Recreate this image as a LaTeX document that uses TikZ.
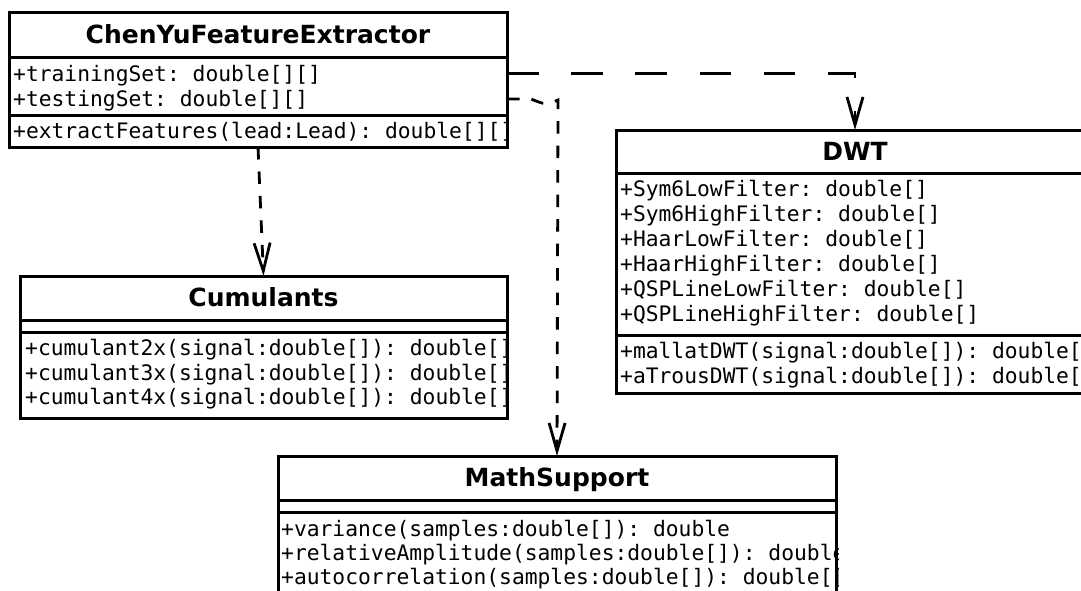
\documentclass[tikz,border=0pt]{standalone}
\usepackage{fontspec}
\setmonofont{DejaVu Sans Mono}
\setsansfont{DejaVu Sans}
\usetikzlibrary{arrows.meta}

\tikzset{
  umlbox/.style={draw=black, line width=3pt, fill=white, inner sep=0pt, outer sep=0pt, anchor=north west},
  divider/.style={draw=black, line width=3pt},
  classname/.style={font=\sffamily\bfseries\fontsize{25}{30}\selectfont, anchor=base, inner sep=0pt},
  member/.style={font=\ttfamily\fontsize{21.3}{25}\selectfont, anchor=base west, inner sep=0pt},
  depends/.style={line width=2.8pt, -{Straight Barb[length=28pt,width=16pt,line width=2.8pt]}},
  longdash/.style={dash pattern=on 31.5pt off 32.7pt},
  shortdash/.style={dash pattern=on 12.5pt off 12pt}
}

\begin{document}
\begin{tikzpicture}[x=1pt,y=-1pt]
\useasboundingbox (0,0) rectangle (1081,590);
\clip (0,0) rectangle (1081,590);
\fill[white] (0,0) rectangle (1081,590);

% ---------- ChenYuFeatureExtractor ----------
\node[umlbox, minimum width=498pt, minimum height=135pt] (chen) at (9,12) {};
\begin{scope}
  \clip (9,12) rectangle (508,147);
  \node[classname] (chen-t) at (258,43.5) {ChenYuFeatureExtractor};
  \node[member] (chen-a1) at (13,81) {+trainingSet: double[][]};
  \node[member] (chen-a2) at (13,106) {+testingSet: double[][]};
  \node[member] (chen-m1) at (13,138) {+extractFeatures(lead:Lead): double[][]};
\end{scope}
\draw[divider] (9,57) -- (507,57);
\draw[divider] (9,115) -- (507,115);
\draw[line width=3pt] (chen.north west) rectangle (chen.south east);

% ---------- DWT ----------
\node[umlbox, minimum width=478pt, minimum height=263pt] (dwt) at (616,130) {};
\begin{scope}
  \clip (616,130) rectangle (1094,393);
  \node[classname] (dwt-t) at (855,160.5) {DWT};
  \node[member] (dwt-a1) at (620,196.5) {+Sym6LowFilter: double[]};
  \node[member] (dwt-a2) at (620,221.5) {+Sym6HighFilter: double[]};
  \node[member] (dwt-a3) at (620,246.5) {+HaarLowFilter: double[]};
  \node[member] (dwt-a4) at (620,271.5) {+HaarHighFilter: double[]};
  \node[member] (dwt-a5) at (620,296.5) {+QSPLineLowFilter: double[]};
  \node[member] (dwt-a6) at (620,321.5) {+QSPLineHighFilter: double[]};
  \node[member] (dwt-m1) at (620,358.5) {+mallatDWT(signal:double[]): double[]};
  \node[member] (dwt-m2) at (620,383) {+aTrousDWT(signal:double[]): double[]};
\end{scope}
\draw[divider] (616,173) -- (1094,173);
\draw[divider] (616,335) -- (1094,335);
\draw[line width=3pt] (dwt.north west) rectangle (dwt.south east);

% ---------- Cumulants ----------
\node[umlbox, minimum width=487pt, minimum height=142pt] (cum) at (20,276) {};
\begin{scope}
  \clip (20,276) rectangle (508,418);
  \node[classname] (cum-t) at (263.5,306.5) {Cumulants};
  \node[member] (cum-m1) at (25,355.5) {+cumulant2x(signal:double[]): double[]};
  \node[member] (cum-m2) at (25,380) {+cumulant3x(signal:double[]): double[]};
  \node[member] (cum-m3) at (25,404.5) {+cumulant4x(signal:double[]): double[]};
\end{scope}
\draw[divider] (20,320) -- (507,320);
\draw[divider] (20,332) -- (507,332);
\draw[line width=3pt] (cum.north west) rectangle (cum.south east);

% ---------- MathSupport ----------
\node[umlbox, minimum width=558pt, minimum height=170pt] (math) at (278,456) {};
\begin{scope}
  \clip (278,456) rectangle (838,626);
  \node[classname] (math-t) at (557,486.5) {MathSupport};
  \node[member] (math-m1) at (281,536) {+variance(samples:double[]): double};
  \node[member] (math-m2) at (281,560) {+relativeAmplitude(samples:double[]): double};
  \node[member] (math-m3) at (281,584) {+autocorrelation(samples:double[]): double[]};
\end{scope}
\draw[divider] (278,500) -- (836,500);
\draw[divider] (278,512) -- (836,512);
\draw[line width=3pt] (math.north west) rectangle (math.south east);

% ---------- dependencies ----------
\coordinate (chen-out1) at (507,73.5);
\coordinate (chen-out2) at (507,99);
\coordinate (bend) at (558,100);
\draw[depends, longdash] (chen-out1) -| (dwt.north);
\draw[depends, shortdash] (chen-out2) -- (531,99) .. controls (546,105) .. (bend) -- (math.north);
\draw[depends, shortdash] (chen.south) -- (cum.north);
\end{tikzpicture}
\end{document}
